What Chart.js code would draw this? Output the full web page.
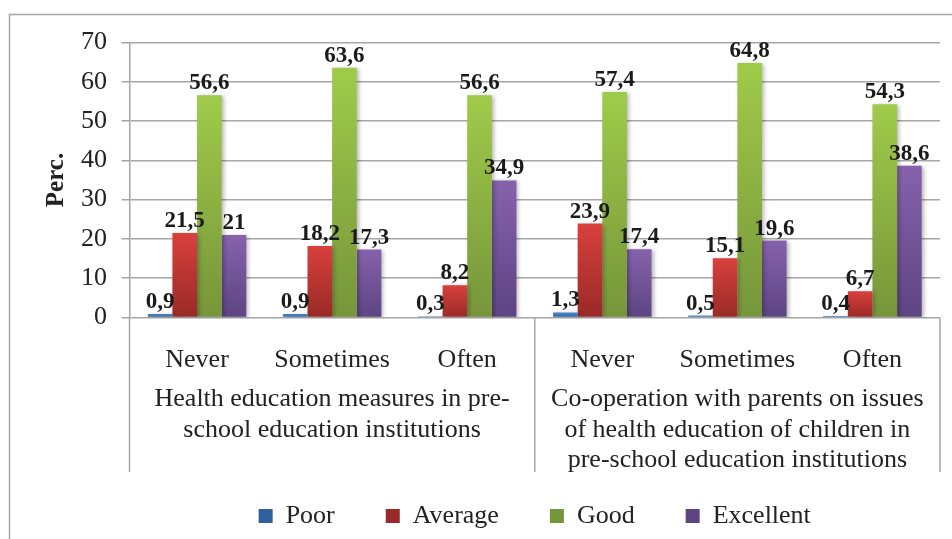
<!DOCTYPE html>
<html><head><meta charset="utf-8">
<script src="https://cdn.jsdelivr.net/npm/chart.js@4/dist/chart.umd.min.js"></script>
<style>html,body{margin:0;padding:0;background:#fff;overflow:hidden}#wrap{width:952px;height:539px;position:relative}</style>
</head><body><div id="wrap"><canvas id="c" width="952" height="539"></canvas></div>
<script>
const categories = ['Never', 'Sometimes', 'Often', 'Never', 'Sometimes', 'Often'];
const groupLabels = [
  ['Health education measures in pre-', 'school education institutions'],
  ['Co-operation with parents on issues', 'of health education of children in', 'pre-school education institutions']
];
const groupSizes = [3, 3];
const seriesNames = ['Poor', 'Average', 'Good', 'Excellent'];
const poor = [0.9, 0.9, 0.3, 1.3, 0.5, 0.4];
const average = [21.5, 18.2, 8.2, 23.9, 15.1, 6.7];
const good = [56.6, 63.6, 56.6, 57.4, 64.8, 54.3];
const excellent = [21, 17.3, 34.9, 17.4, 19.6, 38.6];
const yTicks = [0, 10, 20, 30, 40, 50, 60, 70];
const yTitle = 'Perc.';

const FONT = "'Liberation Serif', 'Times New Roman', serif";
const TXT = '#222';
const GRID = '#a6a6a6';
const topCols = ['#4a86cc', '#d8403d', '#a0cb4a', '#8662ad'];
const botCols = ['#2f5f9c', '#992a27', '#76953a', '#5d4482'];
const midCols = ['#3c73b6', '#c0393a', '#8fb345', '#7156996'.slice(0,7)];

function grad(i) {
  return (ctx) => {
    const chart = ctx.chart;
    const ys = chart.scales && chart.scales.y;
    if (ctx.raw === undefined || !ys || !chart.chartArea) return midCols[i];
    const yTop = ys.getPixelForValue(ctx.raw);
    const yBase = ys.getPixelForValue(0);
    if (!isFinite(yTop) || Math.abs(yBase - yTop) < 1) return topCols[i];
    const g = chart.ctx.createLinearGradient(0, yTop, 0, yBase);
    g.addColorStop(0, topCols[i]);
    g.addColorStop(1, botCols[i]);
    return g;
  };
}

const seriesData = [poor, average, good, excellent];
const datasets = seriesNames.map((n, i) => ({
  label: n,
  data: seriesData[i],
  backgroundColor: grad(i),
  borderWidth: 0,
  categoryPercentage: 0.729,
  barPercentage: 1.0
}));

const decoPlugin = {
  id: 'deco',
  beforeDraw(chart) {
    const c = chart.ctx;
    c.save();
    c.strokeStyle = GRID;
    c.lineWidth = 1.5;
    c.beginPath();
    c.moveTo(9.5, 539);
    c.lineTo(9.5, 14.5);
    c.lineTo(952, 14.5);
    c.stroke();
    c.restore();
  },
  beforeDatasetsDraw(chart) {
    const c = chart.ctx;
    c.save();
    c.shadowColor = 'rgba(0,0,0,0.28)';
    c.shadowBlur = 4;
    c.shadowOffsetX = 2;
    c.shadowOffsetY = 1;
  },
  afterDatasetsDraw(chart) {
    const c = chart.ctx;
    c.restore();
    c.save();
    c.font = "bold 23px " + FONT;
    c.fillStyle = '#1a1a1a';
    c.textAlign = 'center';
    c.textBaseline = 'alphabetic';
    chart.data.datasets.forEach((ds, di) => {
      const meta = chart.getDatasetMeta(di);
      meta.data.forEach((el, j) => {
        const v = ds.data[j];
        c.fillText(String(v).replace('.', ','), el.x, el.y - 6);
      });
    });
    c.restore();
  },
  afterDraw(chart) {
    const c = chart.ctx;
    const xs = chart.scales.x;
    const top = chart.chartArea.bottom;
    const half = (xs.getPixelForValue(1) - xs.getPixelForValue(0)) / 2;
    const bounds = [xs.getPixelForValue(0) - half];
    let idx = 0;
    groupSizes.forEach(s => { idx += s; bounds.push(xs.getPixelForValue(idx - 1) + half); });
    c.save();
    c.strokeStyle = GRID;
    c.lineWidth = 1.5;
    bounds.forEach(b => {
      c.beginPath();
      c.moveTo(b, top);
      c.lineTo(b, top + 154.5);
      c.stroke();
    });
    c.font = "26px " + FONT;
    c.fillStyle = TXT;
    c.textAlign = 'center';
    c.textBaseline = 'middle';
    groupLabels.forEach((lines, gi) => {
      const cx = (bounds[gi] + bounds[gi + 1]) / 2;
      lines.forEach((t, li) => {
        c.fillText(t, cx, top + 82 + li * 30.5);
      });
    });
    c.restore();
  }
};

Chart.defaults.font.family = FONT;
new Chart(document.getElementById('c'), {
  type: 'bar',
  data: { labels: categories, datasets },
  plugins: [decoPlugin],
  options: {
    responsive: false,
    animation: false,
    layout: { padding: { left: 0, right: 12, top: 42.5, bottom: 0 } },
    plugins: {
      legend: {
        position: 'bottom',
        fullSize: false,
        labels: { boxWidth: 14, boxHeight: 14, padding: 51, color: TXT, font: { size: 26, family: FONT } }
      },
      tooltip: { enabled: false }
    },
    scales: {
      x: {
        grid: { display: false },
        border: { display: false },
        ticks: { padding: 19, color: TXT, font: { size: 26 }, maxRotation: 0, autoSkip: false },
        afterFit(s) { s.height = 134.5; }
      },
      y: {
        min: 0, max: 70,
        afterBuildTicks(s) { s.ticks = yTicks.map(v => ({ value: v })); },
        ticks: { padding: 14.5, color: TXT, font: { size: 26 } },
        grid: { color: GRID, lineWidth: 1.5, tickLength: 8 },
        border: { color: GRID, width: 1.5 },
        title: { display: true, text: yTitle, color: TXT, font: { size: 25, weight: 'bold' }, padding: { top: 42, bottom: 0 } },
        afterFit(s) { s.width = 129.5; }
      }
    }
  }
});
</script></body></html>
